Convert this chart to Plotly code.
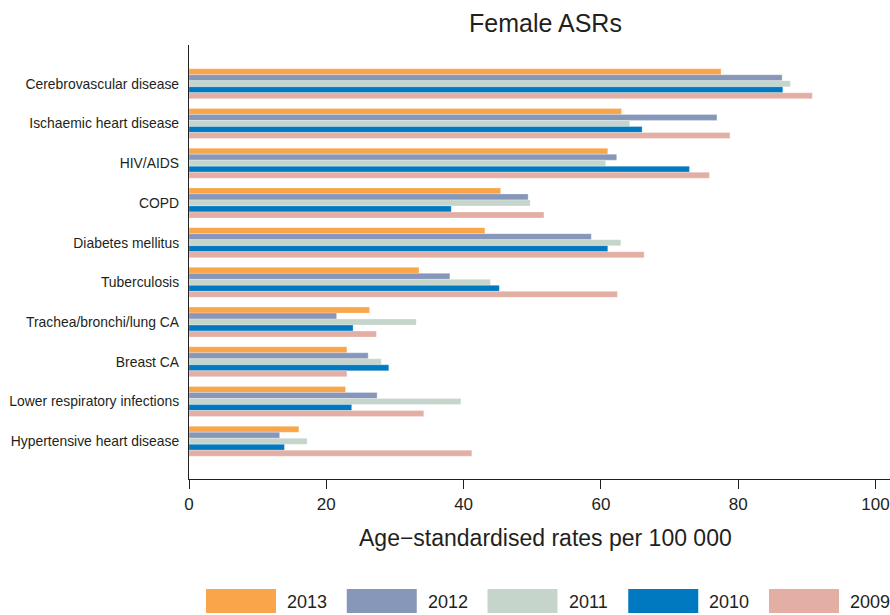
import plotly.graph_objects as go

# Causes of death, listed top to bottom
causes = [
    "Cerebrovascular disease",
    "Ischaemic heart disease",
    "HIV/AIDS",
    "COPD",
    "Diabetes mellitus",
    "Tuberculosis",
    "Trachea/bronchi/lung CA",
    "Breast CA",
    "Lower respiratory infections",
    "Hypertensive heart disease",
]

years = ["2013", "2012", "2011", "2010", "2009"]

# Female age-standardised rates per 100 000, one list per year
asr_2013 = [77.5, 63.0, 61.0, 45.4, 43.1, 33.5, 26.3, 23.0, 22.8, 16.0]
asr_2012 = [86.4, 76.9, 62.3, 49.4, 58.6, 38.0, 21.5, 26.1, 27.4, 13.2]
asr_2011 = [87.6, 64.2, 60.7, 49.7, 62.9, 43.9, 33.1, 28.0, 39.6, 17.2]
asr_2010 = [86.5, 66.0, 72.9, 38.2, 61.0, 45.2, 23.9, 29.1, 23.7, 13.9]
asr_2009 = [90.8, 78.8, 75.8, 51.7, 66.3, 62.4, 27.3, 23.0, 34.2, 41.2]

series = [asr_2013, asr_2012, asr_2011, asr_2010, asr_2009]
colors = ["#F9A54A", "#8697BA", "#C5D5CB", "#0079C1", "#E3AFA5"]

FONT = "Liberation Sans, Arial, Helvetica, sans-serif"
TEXT = "#231F20"

fig = go.Figure()
for year, vals, col in zip(years, series, colors):
    fig.add_trace(go.Bar(
        y=causes,
        x=vals,
        name=year,
        orientation="h",
        marker=dict(color=col, line=dict(color="rgba(255,255,255,0.45)", width=0.6)),
        showlegend=False,
    ))

# Plot-area geometry (pixels) used to place the custom legend and axis title
W, H = 890, 615
ML, MR, MT, MB = 189, 0, 45, 136
pw = W - ML - MR
ph = H - MT - MB


def px_x(px):
    return (px - ML) / pw


def px_y(py):
    return (H - MB - py) / ph


shapes = []
annotations = []

# Legend: wide colour swatches with year labels along the bottom
sw_left0, sw_step, sw_w = 206, 140.75, 70
sw_top, sw_bot = 589, 613
for i, (year, col) in enumerate(zip(years, colors)):
    x0 = sw_left0 + i * sw_step
    shapes.append(dict(
        type="rect", xref="paper", yref="paper",
        x0=px_x(x0), x1=px_x(x0 + sw_w),
        y0=px_y(sw_bot), y1=px_y(sw_top),
        fillcolor=col, line=dict(width=0), layer="above",
    ))
    annotations.append(dict(
        text=year, xref="paper", yref="paper",
        x=px_x(x0 + sw_w + 9), y=px_y(601.5),
        xanchor="left", yanchor="middle", showarrow=False,
        font=dict(family=FONT, size=18, color=TEXT),
    ))

# X-axis title
annotations.append(dict(
    text="Age\u2212standardised rates per 100 000",
    xref="paper", yref="paper",
    x=px_x(545.5), y=px_y(538),
    xanchor="center", yanchor="middle", showarrow=False,
    font=dict(family=FONT, size=23, color=TEXT),
))

fig.update_layout(
    width=W, height=H,
    margin=dict(l=ML, r=MR, t=MT, b=MB, pad=0),
    paper_bgcolor="white",
    plot_bgcolor="white",
    barmode="group",
    bargap=0.245,
    bargroupgap=0,
    font=dict(family=FONT, color=TEXT),
    title=dict(
        text="Female ASRs",
        xref="container", yref="container",
        x=545.5 / W, y=1 - 23.5 / H,
        xanchor="center", yanchor="middle",
        font=dict(family=FONT, size=25, color=TEXT),
    ),
    xaxis=dict(
        range=[0, (W - ML - MR) / 6.865],
        tickvals=[0, 20, 40, 60, 80, 100],
        ticks="outside", ticklen=9, tickwidth=1, tickcolor=TEXT,
        showline=True, linecolor=TEXT, linewidth=1.2,
        showgrid=False, zeroline=False,
        tickfont=dict(family=FONT, size=17, color=TEXT),
    ),
    yaxis=dict(
        categoryorder="array", categoryarray=causes,
        range=[9.95, -0.975],
        ticks="", ticklabelstandoff=6,
        showline=True, linecolor=TEXT, linewidth=1.2,
        showgrid=False, zeroline=False,
        tickfont=dict(family=FONT, size=13.9, color=TEXT),
    ),
    shapes=shapes,
    annotations=annotations,
)

fig.write_html("out.html")
